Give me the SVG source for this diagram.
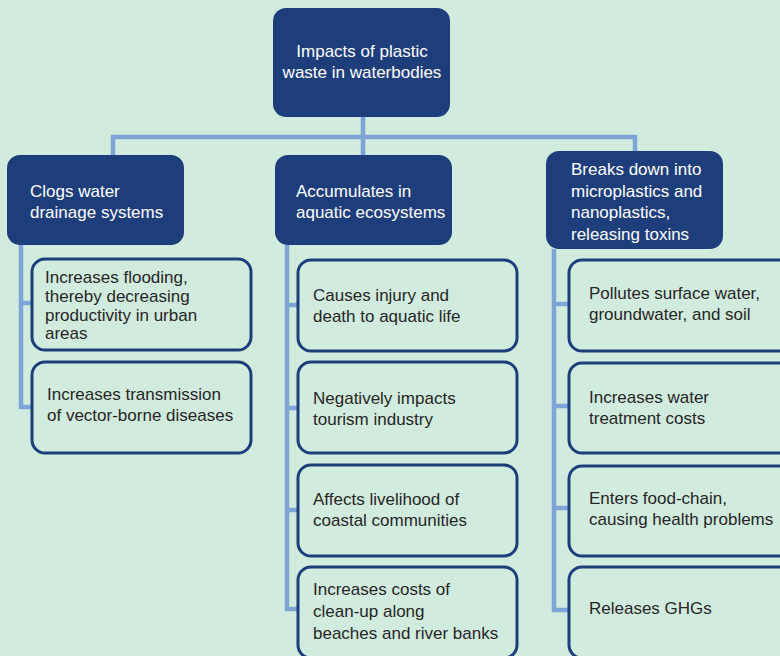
<svg xmlns="http://www.w3.org/2000/svg" width="780" height="656" viewBox="0 0 780 656">
<style>
.bg{fill:#d2ebdf}
.conn{fill:none;stroke:#7fa5d6;stroke-width:4.5;stroke-linejoin:miter}
.head{fill:#1e3e7b}
.child{fill:#d2ebdf;stroke:#1e3e7b;stroke-width:3}
.ht{font-family:"Liberation Sans",Arial,sans-serif;font-size:17px;fill:#ffffff}
.ct{font-family:"Liberation Sans",Arial,sans-serif;font-size:17px;fill:#262626}
</style>
<rect class="bg" x="0" y="0" width="780" height="656"/>
<g id="connectors">
<path class="conn" d="M363 117 V155"/>
<path class="conn" d="M113 155 V137 H635 V151"/>
<path class="conn" d="M21 245 V407 H32"/>
<path class="conn" d="M21 303 H32"/>
<path class="conn" d="M287 245 V609 H298"/>
<path class="conn" d="M287 305 H298 M287 408 H298 M287 510 H298"/>
<path class="conn" d="M554 249 V610 H569"/>
<path class="conn" d="M554 304 H569 M554 406 H569 M554 508 H569"/>
</g>
<g id="root">
<rect class="head" x="273" y="8" width="177" height="109" rx="13"/>
<text class="ht" x="362" y="57" text-anchor="middle">Impacts of plastic</text>
<text class="ht" x="362" y="78" text-anchor="middle">waste in waterbodies</text>
</g>
<g id="clogs">
<rect class="head" x="7" y="155" width="177" height="90" rx="13"/>
<text class="ht" x="30" y="197">Clogs water</text>
<text class="ht" x="30" y="218">drainage systems</text>
</g>
<g id="accumulates">
<rect class="head" x="275" y="155" width="177" height="90" rx="13"/>
<text class="ht" x="296" y="197">Accumulates in</text>
<text class="ht" x="296" y="218">aquatic ecosystems</text>
</g>
<g id="breaks">
<rect class="head" x="546" y="151" width="177" height="98" rx="13"/>
<text class="ht" x="571" y="175">Breaks down into</text>
<text class="ht" x="571" y="197">microplastics and</text>
<text class="ht" x="571" y="218">nanoplastics,</text>
<text class="ht" x="571" y="240">releasing toxins</text>
</g>
<g id="flooding">
<rect class="child" x="32" y="259" width="219" height="91" rx="13"/>
<text class="ct" x="45" y="283">Increases flooding,</text>
<text class="ct" x="45" y="302">thereby decreasing</text>
<text class="ct" x="45" y="321">productivity in urban</text>
<text class="ct" x="45" y="339">areas</text>
</g>
<g id="vector">
<rect class="child" x="32" y="362" width="219" height="91" rx="13"/>
<text class="ct" x="47" y="400">Increases transmission</text>
<text class="ct" x="47" y="421">of vector-borne diseases</text>
</g>
<g id="injury">
<rect class="child" x="298" y="260" width="219" height="91" rx="13"/>
<text class="ct" x="313" y="301">Causes injury and</text>
<text class="ct" x="313" y="322">death to aquatic life</text>
</g>
<g id="tourism">
<rect class="child" x="298" y="362" width="219" height="91" rx="13"/>
<text class="ct" x="313" y="404">Negatively impacts</text>
<text class="ct" x="313" y="425">tourism industry</text>
</g>
<g id="livelihood">
<rect class="child" x="298" y="465" width="219" height="91" rx="13"/>
<text class="ct" x="313" y="505">Affects livelihood of</text>
<text class="ct" x="313" y="526">coastal communities</text>
</g>
<g id="cleanup">
<rect class="child" x="298" y="567" width="219" height="91" rx="13"/>
<text class="ct" x="313" y="595">Increases costs of</text>
<text class="ct" x="313" y="617">clean-up along</text>
<text class="ct" x="313" y="639">beaches and river banks</text>
</g>
<g id="pollutes">
<rect class="child" x="569" y="260" width="240" height="91" rx="13"/>
<text class="ct" x="589" y="299">Pollutes surface water,</text>
<text class="ct" x="589" y="320">groundwater, and soil</text>
</g>
<g id="treatment">
<rect class="child" x="569" y="363" width="240" height="90" rx="13"/>
<text class="ct" x="589" y="403">Increases water</text>
<text class="ct" x="589" y="424">treatment costs</text>
</g>
<g id="foodchain">
<rect class="child" x="569" y="466" width="240" height="90" rx="13"/>
<text class="ct" x="589" y="504">Enters food-chain,</text>
<text class="ct" x="589" y="525">causing health problems</text>
</g>
<g id="ghgs">
<rect class="child" x="569" y="567" width="240" height="91" rx="13"/>
<text class="ct" x="589" y="614">Releases GHGs</text>
</g>
</svg>
